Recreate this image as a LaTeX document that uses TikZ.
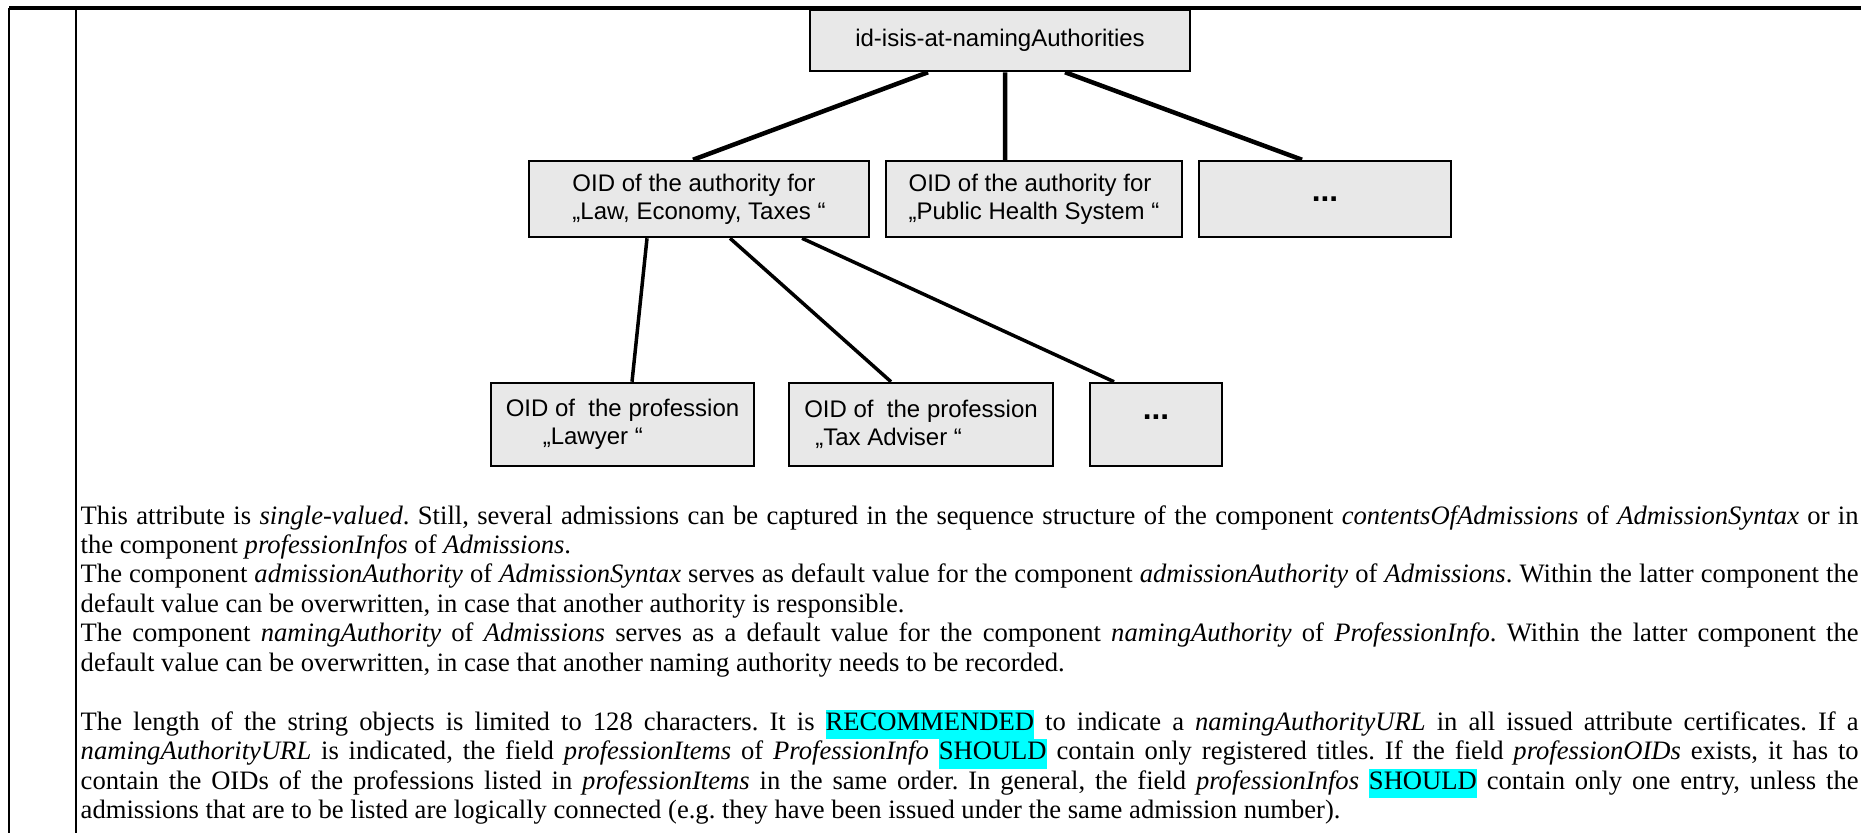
\documentclass[tikz,border=0pt]{standalone}
\usepackage{fontspec}
\setmainfont{Liberation Serif}
\newfontfamily\boxfont{Liberation Sans}
\usepackage{tikz}
\usetikzlibrary{positioning}
\usepackage{xcolor}

\definecolor{boxgray}{HTML}{E8E8E8}
\definecolor{hlcyan}{HTML}{00FFFF}
\newcommand{\keyword}[1]{{\setlength{\fboxsep}{0pt}\colorbox{hlcyan}{\strut #1}}}
\newcommand{\moredots}{{\fontsize{9pt}{9pt}\selectfont\bfseries ...}}

\tikzset{
    oidbox/.style={draw=black, line width=0.25mm, fill=boxgray, inner sep=0pt, align=left,
        font=\boxfont\fontsize{6.83pt}{7.97pt}\selectfont},
    treeline/.style={color=black, line width=0.45mm},
    subline/.style={color=black, line width=0.35mm}
}

\begin{document}
\begin{tikzpicture}[x=0.1mm, y=-0.1mm]
            \useasboundingbox (0,0) rectangle (1861,833);

            \draw[color=black, line width=0.45mm] (9,8) -- (1861,8);
            \draw[color=black, line width=0.25mm] (9,8) -- (9,833);
            \draw[color=black, line width=0.25mm] (76,8) -- (76,833);

            \node[oidbox, minimum width=38mm, minimum height=6.1mm] (root) at (1000,40.5) {id-isis-at-namingAuthorities};

            \node[oidbox, minimum width=34mm, minimum height=7.6mm] (law) at (699,199) {OID of the authority for\\„Law, Economy, Taxes “};
            \node[oidbox, minimum width=29.6mm, minimum height=7.6mm] (health) at (1034,199) {OID of the authority for\\„Public Health System “};
            \node[oidbox, minimum width=25.2mm, minimum height=7.6mm] (moreauth) at (1325,199) {\moredots};

            \node[oidbox, minimum width=26.3mm, minimum height=8.3mm] (lawyer) at (622.5,424.5) {OID of\ \ the profession\\\hspace*{3.7mm}„Lawyer “};
            \node[oidbox, minimum width=26.4mm, minimum height=8.3mm] (taxadviser) at (921,424.5) {OID of\ \ the profession\\\hspace*{1.1mm}„Tax Adviser “};
            \node[oidbox, minimum width=13.2mm, minimum height=8.3mm] (moreprof) at (1156,424.5) {\raisebox{1.5mm}{\moredots}};

            \draw[treeline] ([xshift=-7.2mm]root.south) -- ([xshift=-0.6mm]law.north);
            \draw[treeline] ([xshift=0.5mm]root.south) -- ([xshift=-2.9mm]health.north);
            \draw[treeline] ([xshift=6.5mm]root.south) -- ([xshift=-2.3mm]moreauth.north);

            \draw[subline] ([xshift=-5.2mm]law.south) -- ([xshift=0.95mm]lawyer.north);
            \draw[subline] ([xshift=3.1mm]law.south) -- ([xshift=-3mm]taxadviser.north);
            \draw[subline] ([xshift=10.3mm]law.south) -- ([xshift=-4.2mm]moreprof.north);

            \node[anchor=base west, inner sep=0pt, text width=177.8mm, align=justify,
                font=\fontsize{7.57pt}{8.39pt}\selectfont] (remarks) at (80,524) {\frenchspacing
                This attribute is \textit{single-valued}. Still, several admissions can be captured in the sequence structure of the component \textit{contentsOfAdmissions} of \textit{AdmissionSyntax} or in\linebreak
                the component \textit{professionInfos} of \textit{Admissions}.\par
                The component \textit{admissionAuthority} of \textit{AdmissionSyntax} serves as default value for the component \textit{admissionAuthority} of \textit{Admissions}. Within the latter component the\linebreak
                default value can be overwritten, in case that another authority is responsible.\par
                The component \textit{namingAuthority} of \textit{Admissions} serves as a default value for the component \textit{namingAuthority} of \textit{ProfessionInfo}. Within the latter component the\linebreak
                default value can be overwritten, in case that another naming authority needs to be recorded.\par
                \vspace{8.39pt}
                The length of the string objects is limited to 128 characters. It is \keyword{RECOMMENDED} to indicate a \textit{namingAuthorityURL} in all issued attribute certificates. If a\linebreak
                \textit{namingAuthorityURL} is indicated, the field \textit{professionItems} of \textit{ProfessionInfo} \keyword{SHOULD} contain only registered titles. If the field \textit{professionOIDs} exists, it has to\linebreak
                contain the OIDs of the professions listed in \textit{professionItems} in the same order. In general, the field \textit{professionInfos} \keyword{SHOULD} contain only one entry, unless the\linebreak
                admissions that are to be listed are logically connected (e.g. they have been issued under the same admission number).};
        \end{tikzpicture}
\end{document}
